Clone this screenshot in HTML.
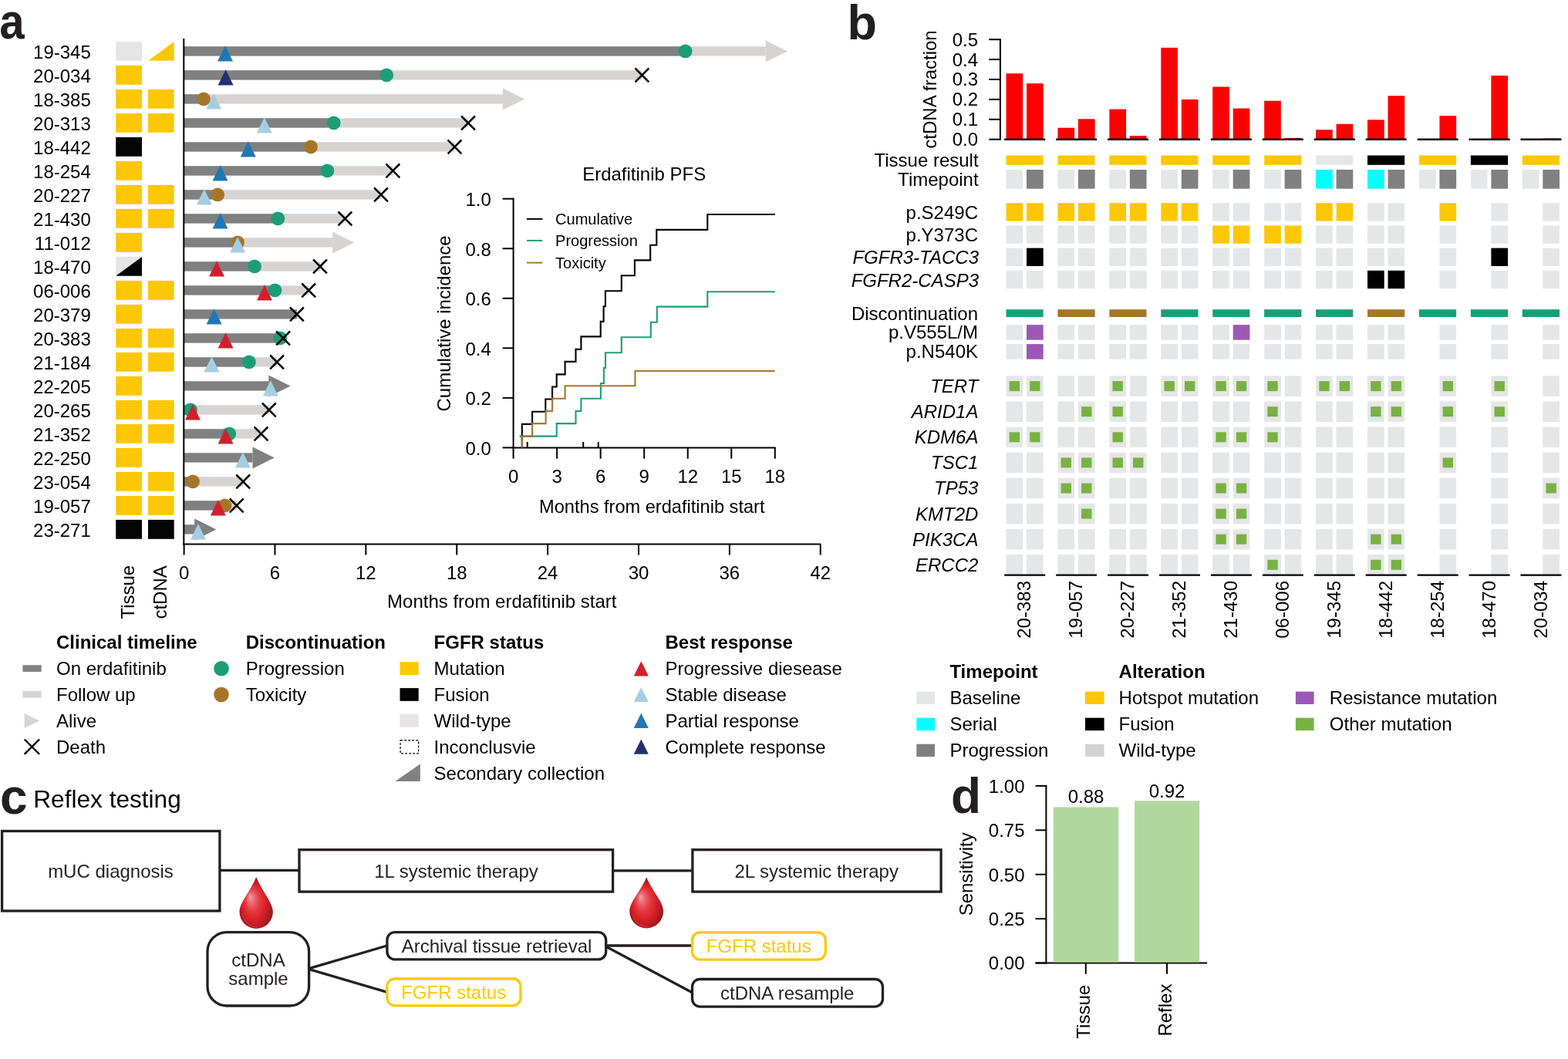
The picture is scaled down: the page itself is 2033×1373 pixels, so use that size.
<!DOCTYPE html>
<html><head><meta charset="utf-8"><title>Figure</title>
<style>html,body{margin:0;padding:0;background:#fff;} svg{display:block;} text{font-family:"Liberation Sans", Arial, Helvetica, sans-serif;}</style>
</head><body>
<svg width="2033" height="1373" viewBox="0 0 2033 1373">
<defs>
<radialGradient id="dropg" cx="0.5" cy="0.56" r="0.56" fx="0.32" fy="0.38">
<stop offset="0" stop-color="#F2A2A6"/>
<stop offset="0.18" stop-color="#EB6870"/>
<stop offset="0.4" stop-color="#E53840"/>
<stop offset="0.6" stop-color="#DC2129"/>
<stop offset="0.8" stop-color="#B51B22"/>
<stop offset="1" stop-color="#8C1318"/>
</radialGradient>
</defs>
<rect x="0" y="0" width="2033" height="1373" fill="#fff"/>
<text x="0" y="0" font-size="64" font-weight="bold" fill="#231F20" transform="translate(-0.8 50.3) scale(0.91 1)">a</text>
<text x="117.80" y="75.60" font-size="24" text-anchor="end">19-345</text>
<rect x="150.20" y="53.90" width="33.80" height="24.90" fill="#E6E4E5"/>
<polygon points="192.00,78.80 225.70,53.90 225.70,78.80" fill="#FDC704"/>
<text x="117.80" y="106.60" font-size="24" text-anchor="end">20-034</text>
<rect x="150.20" y="84.90" width="33.80" height="24.90" fill="#FDC704"/>
<text x="117.80" y="137.60" font-size="24" text-anchor="end">18-385</text>
<rect x="150.20" y="115.90" width="33.80" height="24.90" fill="#FDC704"/>
<rect x="192.00" y="115.90" width="33.70" height="24.90" fill="#FDC704"/>
<text x="117.80" y="168.60" font-size="24" text-anchor="end">20-313</text>
<rect x="150.20" y="146.90" width="33.80" height="24.90" fill="#FDC704"/>
<rect x="192.00" y="146.90" width="33.70" height="24.90" fill="#FDC704"/>
<text x="117.80" y="199.60" font-size="24" text-anchor="end">18-442</text>
<rect x="150.20" y="177.90" width="33.80" height="24.90" fill="#050505"/>
<text x="117.80" y="230.60" font-size="24" text-anchor="end">18-254</text>
<rect x="150.20" y="208.90" width="33.80" height="24.90" fill="#FDC704"/>
<text x="117.80" y="261.60" font-size="24" text-anchor="end">20-227</text>
<rect x="150.20" y="239.90" width="33.80" height="24.90" fill="#FDC704"/>
<rect x="192.00" y="239.90" width="33.70" height="24.90" fill="#FDC704"/>
<text x="117.80" y="292.60" font-size="24" text-anchor="end">21-430</text>
<rect x="150.20" y="270.90" width="33.80" height="24.90" fill="#FDC704"/>
<rect x="192.00" y="270.90" width="33.70" height="24.90" fill="#FDC704"/>
<text x="117.80" y="323.60" font-size="24" text-anchor="end">11-012</text>
<rect x="150.20" y="301.90" width="33.80" height="24.90" fill="#FDC704"/>
<text x="117.80" y="354.60" font-size="24" text-anchor="end">18-470</text>
<rect x="150.20" y="332.90" width="33.80" height="24.90" fill="#E6E4E5"/>
<polygon points="150.20,357.80 184.00,332.90 184.00,357.80" fill="#050505"/>
<text x="117.80" y="385.60" font-size="24" text-anchor="end">06-006</text>
<rect x="150.20" y="363.90" width="33.80" height="24.90" fill="#FDC704"/>
<rect x="192.00" y="363.90" width="33.70" height="24.90" fill="#FDC704"/>
<text x="117.80" y="416.60" font-size="24" text-anchor="end">20-379</text>
<rect x="150.20" y="394.90" width="33.80" height="24.90" fill="#FDC704"/>
<text x="117.80" y="447.60" font-size="24" text-anchor="end">20-383</text>
<rect x="150.20" y="425.90" width="33.80" height="24.90" fill="#FDC704"/>
<rect x="192.00" y="425.90" width="33.70" height="24.90" fill="#FDC704"/>
<text x="117.80" y="478.60" font-size="24" text-anchor="end">21-184</text>
<rect x="150.20" y="456.90" width="33.80" height="24.90" fill="#FDC704"/>
<rect x="192.00" y="456.90" width="33.70" height="24.90" fill="#FDC704"/>
<text x="117.80" y="509.60" font-size="24" text-anchor="end">22-205</text>
<rect x="150.20" y="487.90" width="33.80" height="24.90" fill="#FDC704"/>
<text x="117.80" y="540.60" font-size="24" text-anchor="end">20-265</text>
<rect x="150.20" y="518.90" width="33.80" height="24.90" fill="#FDC704"/>
<rect x="192.00" y="518.90" width="33.70" height="24.90" fill="#FDC704"/>
<text x="117.80" y="571.60" font-size="24" text-anchor="end">21-352</text>
<rect x="150.20" y="549.90" width="33.80" height="24.90" fill="#FDC704"/>
<rect x="192.00" y="549.90" width="33.70" height="24.90" fill="#FDC704"/>
<text x="117.80" y="602.60" font-size="24" text-anchor="end">22-250</text>
<rect x="150.20" y="580.90" width="33.80" height="24.90" fill="#FDC704"/>
<text x="117.80" y="633.60" font-size="24" text-anchor="end">23-054</text>
<rect x="150.20" y="611.90" width="33.80" height="24.90" fill="#FDC704"/>
<rect x="192.00" y="611.90" width="33.70" height="24.90" fill="#FDC704"/>
<text x="117.80" y="664.60" font-size="24" text-anchor="end">19-057</text>
<rect x="150.20" y="642.90" width="33.80" height="24.90" fill="#FDC704"/>
<rect x="192.00" y="642.90" width="33.70" height="24.90" fill="#FDC704"/>
<text x="117.80" y="695.60" font-size="24" text-anchor="end">23-271</text>
<rect x="150.20" y="673.90" width="33.80" height="24.90" fill="#050505"/>
<rect x="192.00" y="673.90" width="33.70" height="24.90" fill="#050505"/>
<rect x="239.00" y="60.25" width="753.70" height="12.30" fill="#D7D3D2"/>
<polygon points="992.70,52.40 1021.00,66.40 992.70,80.40" fill="#D7D3D2"/>
<rect x="239.00" y="60.25" width="649.60" height="12.30" fill="#808080"/>
<rect x="239.00" y="91.25" width="593.40" height="12.30" fill="#D7D3D2"/>
<rect x="239.00" y="91.25" width="262.20" height="12.30" fill="#808080"/>
<rect x="239.00" y="122.25" width="413.00" height="12.30" fill="#D7D3D2"/>
<polygon points="652.00,114.40 680.30,128.40 652.00,142.40" fill="#D7D3D2"/>
<rect x="239.00" y="122.25" width="25.00" height="12.30" fill="#808080"/>
<rect x="239.00" y="153.25" width="368.00" height="12.30" fill="#D7D3D2"/>
<rect x="239.00" y="153.25" width="193.70" height="12.30" fill="#808080"/>
<rect x="239.00" y="184.25" width="350.50" height="12.30" fill="#D7D3D2"/>
<rect x="239.00" y="184.25" width="164.00" height="12.30" fill="#808080"/>
<rect x="239.00" y="215.25" width="270.40" height="12.30" fill="#D7D3D2"/>
<rect x="239.00" y="215.25" width="185.40" height="12.30" fill="#808080"/>
<rect x="239.00" y="246.25" width="255.00" height="12.30" fill="#D7D3D2"/>
<rect x="239.00" y="246.25" width="43.10" height="12.30" fill="#808080"/>
<rect x="239.00" y="277.25" width="208.40" height="12.30" fill="#D7D3D2"/>
<rect x="239.00" y="277.25" width="121.30" height="12.30" fill="#808080"/>
<rect x="239.00" y="308.25" width="192.10" height="12.30" fill="#D7D3D2"/>
<polygon points="431.10,300.40 459.40,314.40 431.10,328.40" fill="#D7D3D2"/>
<rect x="239.00" y="308.25" width="69.10" height="12.30" fill="#808080"/>
<rect x="239.00" y="339.25" width="176.00" height="12.30" fill="#D7D3D2"/>
<rect x="239.00" y="339.25" width="91.00" height="12.30" fill="#808080"/>
<rect x="239.00" y="370.25" width="161.20" height="12.30" fill="#D7D3D2"/>
<rect x="239.00" y="370.25" width="117.50" height="12.30" fill="#808080"/>
<rect x="239.00" y="401.25" width="145.90" height="12.30" fill="#808080"/>
<rect x="239.00" y="432.25" width="128.10" height="12.30" fill="#D7D3D2"/>
<rect x="239.00" y="432.25" width="124.20" height="12.30" fill="#808080"/>
<rect x="239.00" y="463.25" width="120.10" height="12.30" fill="#D7D3D2"/>
<rect x="239.00" y="463.25" width="83.90" height="12.30" fill="#808080"/>
<rect x="239.00" y="494.25" width="109.30" height="12.30" fill="#808080"/>
<polygon points="348.30,486.40 376.60,500.40 348.30,514.40" fill="#808080"/>
<rect x="239.00" y="525.25" width="109.80" height="12.30" fill="#D7D3D2"/>
<rect x="239.00" y="525.25" width="7.90" height="12.30" fill="#808080"/>
<rect x="239.00" y="556.25" width="99.50" height="12.30" fill="#D7D3D2"/>
<rect x="239.00" y="556.25" width="58.20" height="12.30" fill="#808080"/>
<rect x="239.00" y="587.25" width="88.50" height="12.30" fill="#808080"/>
<polygon points="327.50,579.40 355.80,593.40 327.50,607.40" fill="#808080"/>
<rect x="239.00" y="618.25" width="76.20" height="12.30" fill="#D7D3D2"/>
<rect x="239.00" y="618.25" width="11.00" height="12.30" fill="#808080"/>
<rect x="239.00" y="649.25" width="67.70" height="12.30" fill="#D7D3D2"/>
<rect x="239.00" y="649.25" width="52.50" height="12.30" fill="#808080"/>
<rect x="239.00" y="680.25" width="13.10" height="12.30" fill="#808080"/>
<polygon points="252.10,672.40 280.40,686.40 252.10,700.40" fill="#808080"/>
<circle cx="888.60" cy="66.40" r="8.9" fill="#1B9E77"/>
<circle cx="501.20" cy="97.40" r="8.9" fill="#1B9E77"/>
<circle cx="264.00" cy="128.40" r="8.9" fill="#A67628"/>
<circle cx="432.70" cy="159.40" r="8.9" fill="#1B9E77"/>
<circle cx="403.00" cy="190.40" r="8.9" fill="#A67628"/>
<circle cx="424.40" cy="221.40" r="8.9" fill="#1B9E77"/>
<circle cx="282.10" cy="252.40" r="8.9" fill="#A67628"/>
<circle cx="360.30" cy="283.40" r="8.9" fill="#1B9E77"/>
<circle cx="308.10" cy="314.40" r="8.9" fill="#A67628"/>
<circle cx="330.00" cy="345.40" r="8.9" fill="#1B9E77"/>
<circle cx="356.50" cy="376.40" r="8.9" fill="#1B9E77"/>
<circle cx="363.20" cy="438.40" r="8.9" fill="#1B9E77"/>
<circle cx="322.90" cy="469.40" r="8.9" fill="#1B9E77"/>
<circle cx="246.90" cy="531.40" r="8.9" fill="#1B9E77"/>
<circle cx="297.20" cy="562.40" r="8.9" fill="#1B9E77"/>
<circle cx="250.00" cy="624.40" r="8.9" fill="#A67628"/>
<circle cx="291.50" cy="655.40" r="8.9" fill="#A67628"/>
<polygon points="292.00,59.20 302.00,79.60 282.00,79.60" fill="#1F78B4"/>
<polygon points="292.60,90.20 302.60,110.60 282.60,110.60" fill="#22306E"/>
<polygon points="277.20,121.20 287.20,141.60 267.20,141.60" fill="#A6CEE3"/>
<polygon points="342.80,152.20 352.80,172.60 332.80,172.60" fill="#A6CEE3"/>
<polygon points="321.70,183.20 331.70,203.60 311.70,203.60" fill="#1F78B4"/>
<polygon points="285.50,214.20 295.50,234.60 275.50,234.60" fill="#1F78B4"/>
<polygon points="264.80,245.20 274.80,265.60 254.80,265.60" fill="#A6CEE3"/>
<polygon points="285.50,276.20 295.50,296.60 275.50,296.60" fill="#1F78B4"/>
<polygon points="308.10,307.20 318.10,327.60 298.10,327.60" fill="#A6CEE3"/>
<polygon points="281.00,338.20 291.00,358.60 271.00,358.60" fill="#D11F2D"/>
<polygon points="343.00,369.20 353.00,389.60 333.00,389.60" fill="#D11F2D"/>
<polygon points="277.60,400.20 287.60,420.60 267.60,420.60" fill="#1F78B4"/>
<polygon points="292.60,431.20 302.60,451.60 282.60,451.60" fill="#D11F2D"/>
<polygon points="274.50,462.20 284.50,482.60 264.50,482.60" fill="#A6CEE3"/>
<polygon points="350.80,493.20 360.80,513.60 340.80,513.60" fill="#A6CEE3"/>
<polygon points="250.00,524.20 260.00,544.60 240.00,544.60" fill="#D11F2D"/>
<polygon points="292.60,555.20 302.60,575.60 282.60,575.60" fill="#D11F2D"/>
<polygon points="314.90,586.20 324.90,606.60 304.90,606.60" fill="#A6CEE3"/>
<polygon points="282.80,648.20 292.80,668.60 272.80,668.60" fill="#D11F2D"/>
<polygon points="257.00,679.20 267.00,699.60 247.00,699.60" fill="#A6CEE3"/>
<path d="M823.50,88.50L841.30,106.30M841.30,88.50L823.50,106.30" stroke="#000" stroke-width="2.5" fill="none"/>
<path d="M598.10,150.50L615.90,168.30M615.90,150.50L598.10,168.30" stroke="#000" stroke-width="2.5" fill="none"/>
<path d="M580.60,181.50L598.40,199.30M598.40,181.50L580.60,199.30" stroke="#000" stroke-width="2.5" fill="none"/>
<path d="M500.50,212.50L518.30,230.30M518.30,212.50L500.50,230.30" stroke="#000" stroke-width="2.5" fill="none"/>
<path d="M485.10,243.50L502.90,261.30M502.90,243.50L485.10,261.30" stroke="#000" stroke-width="2.5" fill="none"/>
<path d="M438.50,274.50L456.30,292.30M456.30,274.50L438.50,292.30" stroke="#000" stroke-width="2.5" fill="none"/>
<path d="M406.10,336.50L423.90,354.30M423.90,336.50L406.10,354.30" stroke="#000" stroke-width="2.5" fill="none"/>
<path d="M391.30,367.50L409.10,385.30M409.10,367.50L391.30,385.30" stroke="#000" stroke-width="2.5" fill="none"/>
<path d="M376.00,398.50L393.80,416.30M393.80,398.50L376.00,416.30" stroke="#000" stroke-width="2.5" fill="none"/>
<path d="M358.20,429.50L376.00,447.30M376.00,429.50L358.20,447.30" stroke="#000" stroke-width="2.5" fill="none"/>
<path d="M350.20,460.50L368.00,478.30M368.00,460.50L350.20,478.30" stroke="#000" stroke-width="2.5" fill="none"/>
<path d="M339.90,522.50L357.70,540.30M357.70,522.50L339.90,540.30" stroke="#000" stroke-width="2.5" fill="none"/>
<path d="M329.60,553.50L347.40,571.30M347.40,553.50L329.60,571.30" stroke="#000" stroke-width="2.5" fill="none"/>
<path d="M306.30,615.50L324.10,633.30M324.10,615.50L306.30,633.30" stroke="#000" stroke-width="2.5" fill="none"/>
<path d="M297.80,646.50L315.60,664.30M315.60,646.50L297.80,664.30" stroke="#000" stroke-width="2.5" fill="none"/>
<line x1="238.30" y1="50.00" x2="238.30" y2="706.60" stroke="#000" stroke-width="2"/>
<line x1="237.30" y1="705.60" x2="1064.40" y2="705.60" stroke="#000" stroke-width="2"/>
<line x1="238.60" y1="705.60" x2="238.60" y2="719.50" stroke="#000" stroke-width="2"/>
<text x="238.60" y="750.80" font-size="24" text-anchor="middle">0</text>
<line x1="356.48" y1="705.60" x2="356.48" y2="719.50" stroke="#000" stroke-width="2"/>
<text x="356.48" y="750.80" font-size="24" text-anchor="middle">6</text>
<line x1="474.36" y1="705.60" x2="474.36" y2="719.50" stroke="#000" stroke-width="2"/>
<text x="474.36" y="750.80" font-size="24" text-anchor="middle">12</text>
<line x1="592.24" y1="705.60" x2="592.24" y2="719.50" stroke="#000" stroke-width="2"/>
<text x="592.24" y="750.80" font-size="24" text-anchor="middle">18</text>
<line x1="710.12" y1="705.60" x2="710.12" y2="719.50" stroke="#000" stroke-width="2"/>
<text x="710.12" y="750.80" font-size="24" text-anchor="middle">24</text>
<line x1="828.00" y1="705.60" x2="828.00" y2="719.50" stroke="#000" stroke-width="2"/>
<text x="828.00" y="750.80" font-size="24" text-anchor="middle">30</text>
<line x1="945.88" y1="705.60" x2="945.88" y2="719.50" stroke="#000" stroke-width="2"/>
<text x="945.88" y="750.80" font-size="24" text-anchor="middle">36</text>
<line x1="1063.76" y1="705.60" x2="1063.76" y2="719.50" stroke="#000" stroke-width="2"/>
<text x="1063.76" y="750.80" font-size="24" text-anchor="middle">42</text>
<text x="650.80" y="788.00" font-size="24" text-anchor="middle">Months from erdafitinib start</text>
<text x="173.60" y="802.60" font-size="24" text-anchor="start" transform="rotate(-90 173.60 802.60)">Tissue</text>
<text x="215.80" y="802.60" font-size="24" text-anchor="start" transform="rotate(-90 215.80 802.60)">ctDNA</text>
<line x1="665.60" y1="581.40" x2="665.60" y2="256.70" stroke="#000" stroke-width="2"/>
<line x1="664.60" y1="580.40" x2="1005.80" y2="580.40" stroke="#000" stroke-width="2"/>
<line x1="651.60" y1="580.40" x2="665.60" y2="580.40" stroke="#000" stroke-width="2"/>
<text x="636.80" y="589.80" font-size="24" text-anchor="end">0.0</text>
<line x1="651.60" y1="515.86" x2="665.60" y2="515.86" stroke="#000" stroke-width="2"/>
<text x="636.80" y="525.26" font-size="24" text-anchor="end">0.2</text>
<line x1="651.60" y1="451.32" x2="665.60" y2="451.32" stroke="#000" stroke-width="2"/>
<text x="636.80" y="460.72" font-size="24" text-anchor="end">0.4</text>
<line x1="651.60" y1="386.78" x2="665.60" y2="386.78" stroke="#000" stroke-width="2"/>
<text x="636.80" y="396.18" font-size="24" text-anchor="end">0.6</text>
<line x1="651.60" y1="322.24" x2="665.60" y2="322.24" stroke="#000" stroke-width="2"/>
<text x="636.80" y="331.64" font-size="24" text-anchor="end">0.8</text>
<line x1="651.60" y1="257.70" x2="665.60" y2="257.70" stroke="#000" stroke-width="2"/>
<text x="636.80" y="267.10" font-size="24" text-anchor="end">1.0</text>
<line x1="665.60" y1="580.40" x2="665.60" y2="594.70" stroke="#000" stroke-width="2"/>
<text x="665.60" y="626.20" font-size="24" text-anchor="middle">0</text>
<line x1="722.13" y1="580.40" x2="722.13" y2="594.70" stroke="#000" stroke-width="2"/>
<text x="722.13" y="626.20" font-size="24" text-anchor="middle">3</text>
<line x1="778.67" y1="580.40" x2="778.67" y2="594.70" stroke="#000" stroke-width="2"/>
<text x="778.67" y="626.20" font-size="24" text-anchor="middle">6</text>
<line x1="835.20" y1="580.40" x2="835.20" y2="594.70" stroke="#000" stroke-width="2"/>
<text x="835.20" y="626.20" font-size="24" text-anchor="middle">9</text>
<line x1="891.73" y1="580.40" x2="891.73" y2="594.70" stroke="#000" stroke-width="2"/>
<text x="891.73" y="626.20" font-size="24" text-anchor="middle">12</text>
<line x1="948.27" y1="580.40" x2="948.27" y2="594.70" stroke="#000" stroke-width="2"/>
<text x="948.27" y="626.20" font-size="24" text-anchor="middle">15</text>
<line x1="1004.80" y1="580.40" x2="1004.80" y2="594.70" stroke="#000" stroke-width="2"/>
<text x="1004.80" y="626.20" font-size="24" text-anchor="middle">18</text>
<text x="845.30" y="665.00" font-size="23.6" text-anchor="middle">Months from erdafitinib start</text>
<text x="583.90" y="419.40" font-size="24" text-anchor="middle" transform="rotate(-90 583.90 419.40)">Cumulative incidence</text>
<text x="835.20" y="234.20" font-size="24" text-anchor="middle">Erdafitinib PFS</text>
<line x1="683.00" y1="283.90" x2="703.40" y2="283.90" stroke="#000" stroke-width="2"/>
<text x="720.10" y="291.10" font-size="20" text-anchor="start">Cumulative</text>
<line x1="683.00" y1="311.90" x2="703.40" y2="311.90" stroke="#1B9E77" stroke-width="2"/>
<text x="720.10" y="319.10" font-size="20" text-anchor="start">Progression</text>
<line x1="683.00" y1="340.60" x2="703.40" y2="340.60" stroke="#A67628" stroke-width="2"/>
<text x="720.10" y="347.80" font-size="20" text-anchor="start">Toxicity</text>
<path d="M673.60,565.60 L721.70,565.60 L721.70,549.10 L746.50,549.10 L746.50,533.00 L753.40,533.00 L753.40,516.70 L778.90,516.70 L778.90,497.00 L782.90,497.00 L782.90,477.00 L785.00,477.00 L785.00,457.20 L805.80,457.20 L805.80,437.20 L843.80,437.20 L843.80,417.70 L851.80,417.70 L851.80,397.60 L917.30,397.60 L917.30,378.30 L1004.80,378.30" stroke="#1B9E77" stroke-width="2.1" fill="none" stroke-linejoin="miter" stroke-linecap="butt"/>
<path d="M676.80,580.40 L676.80,580.40 L676.80,549.90 L690.10,549.90 L690.10,533.80 L707.30,533.80 L707.30,517.50 L716.10,517.50 L716.10,501.50 L721.70,501.50 L721.70,485.40 L732.60,485.40 L732.60,468.90 L746.50,468.90 L746.50,452.90 L753.40,452.90 L753.40,436.40 L778.70,436.40 L778.70,416.90 L782.60,416.90 L782.60,397.20 L784.90,397.20 L784.90,377.20 L805.80,377.20 L805.80,357.30 L822.90,357.30 L822.90,337.40 L843.20,337.40 L843.20,317.80 L851.30,317.80 L851.30,297.90 L917.30,297.90 L917.30,278.00 L1004.80,278.00" stroke="#000" stroke-width="2.1" fill="none" stroke-linejoin="miter" stroke-linecap="butt"/>
<path d="M676.80,580.40 L676.80,580.40 L676.80,565.60 L690.10,565.60 L690.10,549.10 L707.60,549.10 L707.60,533.00 L716.10,533.00 L716.10,516.70 L732.60,516.70 L732.60,500.20 L823.50,500.20 L823.50,481.00 L1004.80,481.00" stroke="#A67628" stroke-width="2.1" fill="none" stroke-linejoin="miter" stroke-linecap="butt"/>
<line x1="683.70" y1="573.00" x2="683.70" y2="580.40" stroke="#000" stroke-width="2"/>
<line x1="756.20" y1="573.00" x2="756.20" y2="580.40" stroke="#000" stroke-width="2"/>
<line x1="775.70" y1="573.00" x2="775.70" y2="580.40" stroke="#000" stroke-width="2"/>
<text x="73.00" y="840.80" font-size="24" text-anchor="start" font-weight="bold">Clinical timeline</text>
<text x="318.70" y="840.80" font-size="24" text-anchor="start" font-weight="bold">Discontinuation</text>
<text x="562.60" y="840.80" font-size="24" text-anchor="start" font-weight="bold">FGFR status</text>
<text x="862.50" y="840.80" font-size="24" text-anchor="start" font-weight="bold">Best response</text>
<text x="73.00" y="875.30" font-size="24" text-anchor="start">On erdafitinib</text>
<text x="73.00" y="909.00" font-size="24" text-anchor="start">Follow up</text>
<text x="73.00" y="942.80" font-size="24" text-anchor="start">Alive</text>
<text x="73.00" y="976.70" font-size="24" text-anchor="start">Death</text>
<rect x="29.50" y="862.30" width="24.20" height="8.60" fill="#808080"/>
<rect x="29.50" y="896.00" width="24.20" height="8.60" fill="#D7D3D2"/>
<polygon points="31.70,925.00 51.00,934.50 31.70,944.00" fill="#D7D3D2"/>
<path d="M31.70,958.50L51.10,977.90M51.10,958.50L31.70,977.90" stroke="#000" stroke-width="2.4" fill="none"/>
<text x="318.70" y="875.30" font-size="24" text-anchor="start">Progression</text>
<text x="318.70" y="909.00" font-size="24" text-anchor="start">Toxicity</text>
<circle cx="287.00" cy="866.70" r="9.8" fill="#1B9E77"/>
<circle cx="287.00" cy="900.50" r="9.8" fill="#A67628"/>
<text x="562.60" y="875.30" font-size="24" text-anchor="start">Mutation</text>
<text x="562.60" y="909.00" font-size="24" text-anchor="start">Fusion</text>
<text x="562.60" y="942.80" font-size="24" text-anchor="start">Wild-type</text>
<text x="562.60" y="976.70" font-size="24" text-anchor="start">Inconclusvie</text>
<text x="562.60" y="1010.60" font-size="24" text-anchor="start">Secondary collection</text>
<rect x="518.50" y="858.30" width="24.20" height="16.80" fill="#FDC704"/>
<rect x="518.50" y="892.10" width="24.20" height="16.80" fill="#050505"/>
<rect x="518.50" y="925.90" width="24.20" height="16.80" fill="#E6E4E5"/>
<rect x="519.10" y="959.90" width="23.50" height="17.00" fill="none" stroke="#000" stroke-width="1.2" stroke-dasharray="3,2"/>
<polygon points="512.40,1013.00 544.90,990.60 544.90,1013.00" fill="#808080"/>
<text x="862.50" y="875.30" font-size="24" text-anchor="start">Progressive diesease</text>
<polygon points="831.30,857.20 840.90,876.40 821.70,876.40" fill="#D11F2D"/>
<text x="862.50" y="909.00" font-size="24" text-anchor="start">Stable disease</text>
<polygon points="831.30,890.90 840.90,910.10 821.70,910.10" fill="#A6CEE3"/>
<text x="862.50" y="942.80" font-size="24" text-anchor="start">Partial response</text>
<polygon points="831.30,924.70 840.90,943.90 821.70,943.90" fill="#1F78B4"/>
<text x="862.50" y="976.70" font-size="24" text-anchor="start">Complete response</text>
<polygon points="831.30,958.60 840.90,977.80 821.70,977.80" fill="#22306E"/>
<text x="1098.40" y="50.60" font-size="63" text-anchor="start" font-weight="bold" fill="#231F20">b</text>
<line x1="1296.90" y1="181.70" x2="1296.90" y2="50.30" stroke="#000" stroke-width="2"/>
<line x1="1282.30" y1="180.70" x2="1296.90" y2="180.70" stroke="#000" stroke-width="2"/>
<text x="1268.00" y="189.10" font-size="24" text-anchor="end">0.0</text>
<line x1="1282.30" y1="154.80" x2="1296.90" y2="154.80" stroke="#000" stroke-width="2"/>
<text x="1268.00" y="163.20" font-size="24" text-anchor="end">0.1</text>
<line x1="1282.30" y1="128.90" x2="1296.90" y2="128.90" stroke="#000" stroke-width="2"/>
<text x="1268.00" y="137.30" font-size="24" text-anchor="end">0.2</text>
<line x1="1282.30" y1="103.00" x2="1296.90" y2="103.00" stroke="#000" stroke-width="2"/>
<text x="1268.00" y="111.40" font-size="24" text-anchor="end">0.3</text>
<line x1="1282.30" y1="77.10" x2="1296.90" y2="77.10" stroke="#000" stroke-width="2"/>
<text x="1268.00" y="85.50" font-size="24" text-anchor="end">0.4</text>
<line x1="1282.30" y1="51.20" x2="1296.90" y2="51.20" stroke="#000" stroke-width="2"/>
<text x="1268.00" y="59.60" font-size="24" text-anchor="end">0.5</text>
<text x="1214.00" y="116.00" font-size="24" text-anchor="middle" transform="rotate(-90 1214.00 116.00)">ctDNA fraction</text>
<rect x="1304.50" y="95.23" width="21.70" height="85.47" fill="#FF0000"/>
<rect x="1331.00" y="108.18" width="21.70" height="72.52" fill="#FF0000"/>
<line x1="1302.20" y1="180.70" x2="1355.20" y2="180.70" stroke="#000" stroke-width="2.4"/>
<rect x="1371.43" y="165.68" width="21.70" height="15.02" fill="#FF0000"/>
<rect x="1397.93" y="154.28" width="21.70" height="26.42" fill="#FF0000"/>
<line x1="1369.13" y1="180.70" x2="1422.13" y2="180.70" stroke="#000" stroke-width="2.4"/>
<rect x="1438.36" y="141.59" width="21.70" height="39.11" fill="#FF0000"/>
<rect x="1464.86" y="176.04" width="21.70" height="4.66" fill="#FF0000"/>
<line x1="1436.06" y1="180.70" x2="1489.06" y2="180.70" stroke="#000" stroke-width="2.4"/>
<rect x="1505.29" y="61.82" width="21.70" height="118.88" fill="#FF0000"/>
<rect x="1531.79" y="128.90" width="21.70" height="51.80" fill="#FF0000"/>
<line x1="1502.99" y1="180.70" x2="1555.99" y2="180.70" stroke="#000" stroke-width="2.4"/>
<rect x="1572.22" y="112.58" width="21.70" height="68.12" fill="#FF0000"/>
<rect x="1598.72" y="140.55" width="21.70" height="40.15" fill="#FF0000"/>
<line x1="1569.92" y1="180.70" x2="1622.92" y2="180.70" stroke="#000" stroke-width="2.4"/>
<rect x="1639.15" y="130.71" width="21.70" height="49.99" fill="#FF0000"/>
<rect x="1665.65" y="178.89" width="21.70" height="1.81" fill="#FF0000"/>
<line x1="1636.85" y1="180.70" x2="1689.85" y2="180.70" stroke="#000" stroke-width="2.4"/>
<rect x="1706.08" y="168.27" width="21.70" height="12.43" fill="#FF0000"/>
<rect x="1732.58" y="160.76" width="21.70" height="19.94" fill="#FF0000"/>
<line x1="1703.78" y1="180.70" x2="1756.78" y2="180.70" stroke="#000" stroke-width="2.4"/>
<rect x="1773.01" y="155.32" width="21.70" height="25.38" fill="#FF0000"/>
<rect x="1799.51" y="124.24" width="21.70" height="56.46" fill="#FF0000"/>
<line x1="1770.71" y1="180.70" x2="1823.71" y2="180.70" stroke="#000" stroke-width="2.4"/>
<rect x="1866.44" y="150.14" width="21.70" height="30.56" fill="#FF0000"/>
<line x1="1837.64" y1="180.70" x2="1890.64" y2="180.70" stroke="#000" stroke-width="2.4"/>
<rect x="1933.37" y="98.08" width="21.70" height="82.62" fill="#FF0000"/>
<line x1="1904.57" y1="180.70" x2="1957.57" y2="180.70" stroke="#000" stroke-width="2.4"/>
<rect x="2000.30" y="179.41" width="21.70" height="1.29" fill="#FF0000"/>
<line x1="1971.50" y1="180.70" x2="2024.50" y2="180.70" stroke="#000" stroke-width="2.4"/>
<rect x="1304.50" y="201.50" width="48.20" height="12.30" fill="#FDC704"/>
<rect x="1371.43" y="201.50" width="48.20" height="12.30" fill="#FDC704"/>
<rect x="1438.36" y="201.50" width="48.20" height="12.30" fill="#FDC704"/>
<rect x="1505.29" y="201.50" width="48.20" height="12.30" fill="#FDC704"/>
<rect x="1572.22" y="201.50" width="48.20" height="12.30" fill="#FDC704"/>
<rect x="1639.15" y="201.50" width="48.20" height="12.30" fill="#FDC704"/>
<rect x="1706.08" y="201.50" width="48.20" height="12.30" fill="#E5E6E7"/>
<rect x="1773.01" y="201.50" width="48.20" height="12.30" fill="#000"/>
<rect x="1839.94" y="201.50" width="48.20" height="12.30" fill="#FDC704"/>
<rect x="1906.87" y="201.50" width="48.20" height="12.30" fill="#000"/>
<rect x="1973.80" y="201.50" width="48.20" height="12.30" fill="#FDC704"/>
<text x="1268.60" y="215.50" font-size="24" text-anchor="end">Tissue result</text>
<text x="1268.60" y="240.80" font-size="24" text-anchor="end">Timepoint</text>
<rect x="1304.50" y="220.00" width="21.70" height="24.70" fill="#E5E6E7"/>
<rect x="1331.00" y="220.00" width="21.70" height="24.70" fill="#808080"/>
<rect x="1371.43" y="220.00" width="21.70" height="24.70" fill="#E5E6E7"/>
<rect x="1397.93" y="220.00" width="21.70" height="24.70" fill="#808080"/>
<rect x="1438.36" y="220.00" width="21.70" height="24.70" fill="#E5E6E7"/>
<rect x="1464.86" y="220.00" width="21.70" height="24.70" fill="#808080"/>
<rect x="1505.29" y="220.00" width="21.70" height="24.70" fill="#E5E6E7"/>
<rect x="1531.79" y="220.00" width="21.70" height="24.70" fill="#808080"/>
<rect x="1572.22" y="220.00" width="21.70" height="24.70" fill="#E5E6E7"/>
<rect x="1598.72" y="220.00" width="21.70" height="24.70" fill="#808080"/>
<rect x="1639.15" y="220.00" width="21.70" height="24.70" fill="#E5E6E7"/>
<rect x="1665.65" y="220.00" width="21.70" height="24.70" fill="#808080"/>
<rect x="1706.08" y="220.00" width="21.70" height="24.70" fill="#00FFFF"/>
<rect x="1732.58" y="220.00" width="21.70" height="24.70" fill="#808080"/>
<rect x="1773.01" y="220.00" width="21.70" height="24.70" fill="#00FFFF"/>
<rect x="1799.51" y="220.00" width="21.70" height="24.70" fill="#808080"/>
<rect x="1839.94" y="220.00" width="21.70" height="24.70" fill="#E5E6E7"/>
<rect x="1866.44" y="220.00" width="21.70" height="24.70" fill="#808080"/>
<rect x="1906.87" y="220.00" width="21.70" height="24.70" fill="#E5E6E7"/>
<rect x="1933.37" y="220.00" width="21.70" height="24.70" fill="#808080"/>
<rect x="1973.80" y="220.00" width="21.70" height="24.70" fill="#E5E6E7"/>
<rect x="2000.30" y="220.00" width="21.70" height="24.70" fill="#808080"/>
<text x="1268.00" y="283.90" font-size="24" text-anchor="end">p.S249C</text>
<rect x="1304.50" y="263.20" width="21.70" height="23.40" fill="#FDC704"/>
<rect x="1331.00" y="263.20" width="21.70" height="23.40" fill="#FDC704"/>
<rect x="1371.43" y="263.20" width="21.70" height="23.40" fill="#FDC704"/>
<rect x="1397.93" y="263.20" width="21.70" height="23.40" fill="#FDC704"/>
<rect x="1438.36" y="263.20" width="21.70" height="23.40" fill="#FDC704"/>
<rect x="1464.86" y="263.20" width="21.70" height="23.40" fill="#FDC704"/>
<rect x="1505.29" y="263.20" width="21.70" height="23.40" fill="#FDC704"/>
<rect x="1531.79" y="263.20" width="21.70" height="23.40" fill="#FDC704"/>
<rect x="1572.22" y="263.20" width="21.70" height="23.40" fill="#E5E6E7"/>
<rect x="1598.72" y="263.20" width="21.70" height="23.40" fill="#E5E6E7"/>
<rect x="1639.15" y="263.20" width="21.70" height="23.40" fill="#E5E6E7"/>
<rect x="1665.65" y="263.20" width="21.70" height="23.40" fill="#E5E6E7"/>
<rect x="1706.08" y="263.20" width="21.70" height="23.40" fill="#FDC704"/>
<rect x="1732.58" y="263.20" width="21.70" height="23.40" fill="#FDC704"/>
<rect x="1773.01" y="263.20" width="21.70" height="23.40" fill="#E5E6E7"/>
<rect x="1799.51" y="263.20" width="21.70" height="23.40" fill="#E5E6E7"/>
<rect x="1866.44" y="263.20" width="21.70" height="23.40" fill="#FDC704"/>
<rect x="1933.37" y="263.20" width="21.70" height="23.40" fill="#E5E6E7"/>
<rect x="2000.30" y="263.20" width="21.70" height="23.40" fill="#E5E6E7"/>
<text x="1268.00" y="313.10" font-size="24" text-anchor="end">p.Y373C</text>
<rect x="1304.50" y="292.40" width="21.70" height="23.40" fill="#E5E6E7"/>
<rect x="1331.00" y="292.40" width="21.70" height="23.40" fill="#E5E6E7"/>
<rect x="1371.43" y="292.40" width="21.70" height="23.40" fill="#E5E6E7"/>
<rect x="1397.93" y="292.40" width="21.70" height="23.40" fill="#E5E6E7"/>
<rect x="1438.36" y="292.40" width="21.70" height="23.40" fill="#E5E6E7"/>
<rect x="1464.86" y="292.40" width="21.70" height="23.40" fill="#E5E6E7"/>
<rect x="1505.29" y="292.40" width="21.70" height="23.40" fill="#E5E6E7"/>
<rect x="1531.79" y="292.40" width="21.70" height="23.40" fill="#E5E6E7"/>
<rect x="1572.22" y="292.40" width="21.70" height="23.40" fill="#FDC704"/>
<rect x="1598.72" y="292.40" width="21.70" height="23.40" fill="#FDC704"/>
<rect x="1639.15" y="292.40" width="21.70" height="23.40" fill="#FDC704"/>
<rect x="1665.65" y="292.40" width="21.70" height="23.40" fill="#FDC704"/>
<rect x="1706.08" y="292.40" width="21.70" height="23.40" fill="#E5E6E7"/>
<rect x="1732.58" y="292.40" width="21.70" height="23.40" fill="#E5E6E7"/>
<rect x="1773.01" y="292.40" width="21.70" height="23.40" fill="#E5E6E7"/>
<rect x="1799.51" y="292.40" width="21.70" height="23.40" fill="#E5E6E7"/>
<rect x="1866.44" y="292.40" width="21.70" height="23.40" fill="#E5E6E7"/>
<rect x="1933.37" y="292.40" width="21.70" height="23.40" fill="#E5E6E7"/>
<rect x="2000.30" y="292.40" width="21.70" height="23.40" fill="#E5E6E7"/>
<text x="1269.00" y="342.30" font-size="24" text-anchor="end" font-style="italic">FGFR3-TACC3</text>
<rect x="1304.50" y="321.60" width="21.70" height="23.40" fill="#E5E6E7"/>
<rect x="1331.00" y="321.60" width="21.70" height="23.40" fill="#000"/>
<rect x="1371.43" y="321.60" width="21.70" height="23.40" fill="#E5E6E7"/>
<rect x="1397.93" y="321.60" width="21.70" height="23.40" fill="#E5E6E7"/>
<rect x="1438.36" y="321.60" width="21.70" height="23.40" fill="#E5E6E7"/>
<rect x="1464.86" y="321.60" width="21.70" height="23.40" fill="#E5E6E7"/>
<rect x="1505.29" y="321.60" width="21.70" height="23.40" fill="#E5E6E7"/>
<rect x="1531.79" y="321.60" width="21.70" height="23.40" fill="#E5E6E7"/>
<rect x="1572.22" y="321.60" width="21.70" height="23.40" fill="#E5E6E7"/>
<rect x="1598.72" y="321.60" width="21.70" height="23.40" fill="#E5E6E7"/>
<rect x="1639.15" y="321.60" width="21.70" height="23.40" fill="#E5E6E7"/>
<rect x="1665.65" y="321.60" width="21.70" height="23.40" fill="#E5E6E7"/>
<rect x="1706.08" y="321.60" width="21.70" height="23.40" fill="#E5E6E7"/>
<rect x="1732.58" y="321.60" width="21.70" height="23.40" fill="#E5E6E7"/>
<rect x="1773.01" y="321.60" width="21.70" height="23.40" fill="#E5E6E7"/>
<rect x="1799.51" y="321.60" width="21.70" height="23.40" fill="#E5E6E7"/>
<rect x="1866.44" y="321.60" width="21.70" height="23.40" fill="#E5E6E7"/>
<rect x="1933.37" y="321.60" width="21.70" height="23.40" fill="#000"/>
<rect x="2000.30" y="321.60" width="21.70" height="23.40" fill="#E5E6E7"/>
<text x="1269.00" y="371.50" font-size="24" text-anchor="end" font-style="italic">FGFR2-CASP3</text>
<rect x="1304.50" y="350.80" width="21.70" height="23.40" fill="#E5E6E7"/>
<rect x="1331.00" y="350.80" width="21.70" height="23.40" fill="#E5E6E7"/>
<rect x="1371.43" y="350.80" width="21.70" height="23.40" fill="#E5E6E7"/>
<rect x="1397.93" y="350.80" width="21.70" height="23.40" fill="#E5E6E7"/>
<rect x="1438.36" y="350.80" width="21.70" height="23.40" fill="#E5E6E7"/>
<rect x="1464.86" y="350.80" width="21.70" height="23.40" fill="#E5E6E7"/>
<rect x="1505.29" y="350.80" width="21.70" height="23.40" fill="#E5E6E7"/>
<rect x="1531.79" y="350.80" width="21.70" height="23.40" fill="#E5E6E7"/>
<rect x="1572.22" y="350.80" width="21.70" height="23.40" fill="#E5E6E7"/>
<rect x="1598.72" y="350.80" width="21.70" height="23.40" fill="#E5E6E7"/>
<rect x="1639.15" y="350.80" width="21.70" height="23.40" fill="#E5E6E7"/>
<rect x="1665.65" y="350.80" width="21.70" height="23.40" fill="#E5E6E7"/>
<rect x="1706.08" y="350.80" width="21.70" height="23.40" fill="#E5E6E7"/>
<rect x="1732.58" y="350.80" width="21.70" height="23.40" fill="#E5E6E7"/>
<rect x="1773.01" y="350.80" width="21.70" height="23.40" fill="#000"/>
<rect x="1799.51" y="350.80" width="21.70" height="23.40" fill="#000"/>
<rect x="1866.44" y="350.80" width="21.70" height="23.40" fill="#E5E6E7"/>
<rect x="1933.37" y="350.80" width="21.70" height="23.40" fill="#E5E6E7"/>
<rect x="2000.30" y="350.80" width="21.70" height="23.40" fill="#E5E6E7"/>
<text x="1268.00" y="414.50" font-size="24" text-anchor="end">Discontinuation</text>
<rect x="1304.50" y="401.20" width="48.20" height="9.80" fill="#1B9E77"/>
<rect x="1371.43" y="401.20" width="48.20" height="9.80" fill="#A67628"/>
<rect x="1438.36" y="401.20" width="48.20" height="9.80" fill="#A67628"/>
<rect x="1505.29" y="401.20" width="48.20" height="9.80" fill="#1B9E77"/>
<rect x="1572.22" y="401.20" width="48.20" height="9.80" fill="#1B9E77"/>
<rect x="1639.15" y="401.20" width="48.20" height="9.80" fill="#1B9E77"/>
<rect x="1706.08" y="401.20" width="48.20" height="9.80" fill="#1B9E77"/>
<rect x="1773.01" y="401.20" width="48.20" height="9.80" fill="#A67628"/>
<rect x="1839.94" y="401.20" width="48.20" height="9.80" fill="#1B9E77"/>
<rect x="1906.87" y="401.20" width="48.20" height="9.80" fill="#1B9E77"/>
<rect x="1973.80" y="401.20" width="48.20" height="9.80" fill="#1B9E77"/>
<text x="1268.00" y="439.10" font-size="24" text-anchor="end">p.V555L/M</text>
<rect x="1304.50" y="421.10" width="21.70" height="19.60" fill="#E5E6E7"/>
<rect x="1331.00" y="421.10" width="21.70" height="19.60" fill="#9A59B5"/>
<rect x="1371.43" y="421.10" width="21.70" height="19.60" fill="#E5E6E7"/>
<rect x="1397.93" y="421.10" width="21.70" height="19.60" fill="#E5E6E7"/>
<rect x="1438.36" y="421.10" width="21.70" height="19.60" fill="#E5E6E7"/>
<rect x="1464.86" y="421.10" width="21.70" height="19.60" fill="#E5E6E7"/>
<rect x="1505.29" y="421.10" width="21.70" height="19.60" fill="#E5E6E7"/>
<rect x="1531.79" y="421.10" width="21.70" height="19.60" fill="#E5E6E7"/>
<rect x="1572.22" y="421.10" width="21.70" height="19.60" fill="#E5E6E7"/>
<rect x="1598.72" y="421.10" width="21.70" height="19.60" fill="#9A59B5"/>
<rect x="1639.15" y="421.10" width="21.70" height="19.60" fill="#E5E6E7"/>
<rect x="1665.65" y="421.10" width="21.70" height="19.60" fill="#E5E6E7"/>
<rect x="1706.08" y="421.10" width="21.70" height="19.60" fill="#E5E6E7"/>
<rect x="1732.58" y="421.10" width="21.70" height="19.60" fill="#E5E6E7"/>
<rect x="1773.01" y="421.10" width="21.70" height="19.60" fill="#E5E6E7"/>
<rect x="1799.51" y="421.10" width="21.70" height="19.60" fill="#E5E6E7"/>
<rect x="1866.44" y="421.10" width="21.70" height="19.60" fill="#E5E6E7"/>
<rect x="1933.37" y="421.10" width="21.70" height="19.60" fill="#E5E6E7"/>
<rect x="2000.30" y="421.10" width="21.70" height="19.60" fill="#E5E6E7"/>
<text x="1268.00" y="464.10" font-size="24" text-anchor="end">p.N540K</text>
<rect x="1304.50" y="446.10" width="21.70" height="19.60" fill="#E5E6E7"/>
<rect x="1331.00" y="446.10" width="21.70" height="19.60" fill="#9A59B5"/>
<rect x="1371.43" y="446.10" width="21.70" height="19.60" fill="#E5E6E7"/>
<rect x="1397.93" y="446.10" width="21.70" height="19.60" fill="#E5E6E7"/>
<rect x="1438.36" y="446.10" width="21.70" height="19.60" fill="#E5E6E7"/>
<rect x="1464.86" y="446.10" width="21.70" height="19.60" fill="#E5E6E7"/>
<rect x="1505.29" y="446.10" width="21.70" height="19.60" fill="#E5E6E7"/>
<rect x="1531.79" y="446.10" width="21.70" height="19.60" fill="#E5E6E7"/>
<rect x="1572.22" y="446.10" width="21.70" height="19.60" fill="#E5E6E7"/>
<rect x="1598.72" y="446.10" width="21.70" height="19.60" fill="#E5E6E7"/>
<rect x="1639.15" y="446.10" width="21.70" height="19.60" fill="#E5E6E7"/>
<rect x="1665.65" y="446.10" width="21.70" height="19.60" fill="#E5E6E7"/>
<rect x="1706.08" y="446.10" width="21.70" height="19.60" fill="#E5E6E7"/>
<rect x="1732.58" y="446.10" width="21.70" height="19.60" fill="#E5E6E7"/>
<rect x="1773.01" y="446.10" width="21.70" height="19.60" fill="#E5E6E7"/>
<rect x="1799.51" y="446.10" width="21.70" height="19.60" fill="#E5E6E7"/>
<rect x="1866.44" y="446.10" width="21.70" height="19.60" fill="#E5E6E7"/>
<rect x="1933.37" y="446.10" width="21.70" height="19.60" fill="#E5E6E7"/>
<rect x="2000.30" y="446.10" width="21.70" height="19.60" fill="#E5E6E7"/>
<text x="1268.40" y="509.00" font-size="24" text-anchor="end" font-style="italic">TERT</text>
<rect x="1304.50" y="487.30" width="21.70" height="26.60" fill="#E5E6E7"/>
<rect x="1308.65" y="494.10" width="13.40" height="13.00" fill="#79B142"/>
<rect x="1331.00" y="487.30" width="21.70" height="26.60" fill="#E5E6E7"/>
<rect x="1335.15" y="494.10" width="13.40" height="13.00" fill="#79B142"/>
<rect x="1371.43" y="487.30" width="21.70" height="26.60" fill="#E5E6E7"/>
<rect x="1397.93" y="487.30" width="21.70" height="26.60" fill="#E5E6E7"/>
<rect x="1438.36" y="487.30" width="21.70" height="26.60" fill="#E5E6E7"/>
<rect x="1442.51" y="494.10" width="13.40" height="13.00" fill="#79B142"/>
<rect x="1464.86" y="487.30" width="21.70" height="26.60" fill="#E5E6E7"/>
<rect x="1505.29" y="487.30" width="21.70" height="26.60" fill="#E5E6E7"/>
<rect x="1509.44" y="494.10" width="13.40" height="13.00" fill="#79B142"/>
<rect x="1531.79" y="487.30" width="21.70" height="26.60" fill="#E5E6E7"/>
<rect x="1535.94" y="494.10" width="13.40" height="13.00" fill="#79B142"/>
<rect x="1572.22" y="487.30" width="21.70" height="26.60" fill="#E5E6E7"/>
<rect x="1576.37" y="494.10" width="13.40" height="13.00" fill="#79B142"/>
<rect x="1598.72" y="487.30" width="21.70" height="26.60" fill="#E5E6E7"/>
<rect x="1602.87" y="494.10" width="13.40" height="13.00" fill="#79B142"/>
<rect x="1639.15" y="487.30" width="21.70" height="26.60" fill="#E5E6E7"/>
<rect x="1643.30" y="494.10" width="13.40" height="13.00" fill="#79B142"/>
<rect x="1665.65" y="487.30" width="21.70" height="26.60" fill="#E5E6E7"/>
<rect x="1706.08" y="487.30" width="21.70" height="26.60" fill="#E5E6E7"/>
<rect x="1710.23" y="494.10" width="13.40" height="13.00" fill="#79B142"/>
<rect x="1732.58" y="487.30" width="21.70" height="26.60" fill="#E5E6E7"/>
<rect x="1736.73" y="494.10" width="13.40" height="13.00" fill="#79B142"/>
<rect x="1773.01" y="487.30" width="21.70" height="26.60" fill="#E5E6E7"/>
<rect x="1777.16" y="494.10" width="13.40" height="13.00" fill="#79B142"/>
<rect x="1799.51" y="487.30" width="21.70" height="26.60" fill="#E5E6E7"/>
<rect x="1803.66" y="494.10" width="13.40" height="13.00" fill="#79B142"/>
<rect x="1866.44" y="487.30" width="21.70" height="26.60" fill="#E5E6E7"/>
<rect x="1870.59" y="494.10" width="13.40" height="13.00" fill="#79B142"/>
<rect x="1933.37" y="487.30" width="21.70" height="26.60" fill="#E5E6E7"/>
<rect x="1937.52" y="494.10" width="13.40" height="13.00" fill="#79B142"/>
<rect x="2000.30" y="487.30" width="21.70" height="26.60" fill="#E5E6E7"/>
<text x="1268.40" y="542.10" font-size="24" text-anchor="end" font-style="italic">ARID1A</text>
<rect x="1304.50" y="520.40" width="21.70" height="26.60" fill="#E5E6E7"/>
<rect x="1331.00" y="520.40" width="21.70" height="26.60" fill="#E5E6E7"/>
<rect x="1371.43" y="520.40" width="21.70" height="26.60" fill="#E5E6E7"/>
<rect x="1397.93" y="520.40" width="21.70" height="26.60" fill="#E5E6E7"/>
<rect x="1402.08" y="527.20" width="13.40" height="13.00" fill="#79B142"/>
<rect x="1438.36" y="520.40" width="21.70" height="26.60" fill="#E5E6E7"/>
<rect x="1442.51" y="527.20" width="13.40" height="13.00" fill="#79B142"/>
<rect x="1464.86" y="520.40" width="21.70" height="26.60" fill="#E5E6E7"/>
<rect x="1505.29" y="520.40" width="21.70" height="26.60" fill="#E5E6E7"/>
<rect x="1531.79" y="520.40" width="21.70" height="26.60" fill="#E5E6E7"/>
<rect x="1572.22" y="520.40" width="21.70" height="26.60" fill="#E5E6E7"/>
<rect x="1598.72" y="520.40" width="21.70" height="26.60" fill="#E5E6E7"/>
<rect x="1639.15" y="520.40" width="21.70" height="26.60" fill="#E5E6E7"/>
<rect x="1643.30" y="527.20" width="13.40" height="13.00" fill="#79B142"/>
<rect x="1665.65" y="520.40" width="21.70" height="26.60" fill="#E5E6E7"/>
<rect x="1706.08" y="520.40" width="21.70" height="26.60" fill="#E5E6E7"/>
<rect x="1732.58" y="520.40" width="21.70" height="26.60" fill="#E5E6E7"/>
<rect x="1773.01" y="520.40" width="21.70" height="26.60" fill="#E5E6E7"/>
<rect x="1777.16" y="527.20" width="13.40" height="13.00" fill="#79B142"/>
<rect x="1799.51" y="520.40" width="21.70" height="26.60" fill="#E5E6E7"/>
<rect x="1803.66" y="527.20" width="13.40" height="13.00" fill="#79B142"/>
<rect x="1866.44" y="520.40" width="21.70" height="26.60" fill="#E5E6E7"/>
<rect x="1870.59" y="527.20" width="13.40" height="13.00" fill="#79B142"/>
<rect x="1933.37" y="520.40" width="21.70" height="26.60" fill="#E5E6E7"/>
<rect x="1937.52" y="527.20" width="13.40" height="13.00" fill="#79B142"/>
<rect x="2000.30" y="520.40" width="21.70" height="26.60" fill="#E5E6E7"/>
<text x="1268.40" y="575.20" font-size="24" text-anchor="end" font-style="italic">KDM6A</text>
<rect x="1304.50" y="553.50" width="21.70" height="26.60" fill="#E5E6E7"/>
<rect x="1308.65" y="560.30" width="13.40" height="13.00" fill="#79B142"/>
<rect x="1331.00" y="553.50" width="21.70" height="26.60" fill="#E5E6E7"/>
<rect x="1335.15" y="560.30" width="13.40" height="13.00" fill="#79B142"/>
<rect x="1371.43" y="553.50" width="21.70" height="26.60" fill="#E5E6E7"/>
<rect x="1397.93" y="553.50" width="21.70" height="26.60" fill="#E5E6E7"/>
<rect x="1438.36" y="553.50" width="21.70" height="26.60" fill="#E5E6E7"/>
<rect x="1442.51" y="560.30" width="13.40" height="13.00" fill="#79B142"/>
<rect x="1464.86" y="553.50" width="21.70" height="26.60" fill="#E5E6E7"/>
<rect x="1505.29" y="553.50" width="21.70" height="26.60" fill="#E5E6E7"/>
<rect x="1531.79" y="553.50" width="21.70" height="26.60" fill="#E5E6E7"/>
<rect x="1572.22" y="553.50" width="21.70" height="26.60" fill="#E5E6E7"/>
<rect x="1576.37" y="560.30" width="13.40" height="13.00" fill="#79B142"/>
<rect x="1598.72" y="553.50" width="21.70" height="26.60" fill="#E5E6E7"/>
<rect x="1602.87" y="560.30" width="13.40" height="13.00" fill="#79B142"/>
<rect x="1639.15" y="553.50" width="21.70" height="26.60" fill="#E5E6E7"/>
<rect x="1643.30" y="560.30" width="13.40" height="13.00" fill="#79B142"/>
<rect x="1665.65" y="553.50" width="21.70" height="26.60" fill="#E5E6E7"/>
<rect x="1706.08" y="553.50" width="21.70" height="26.60" fill="#E5E6E7"/>
<rect x="1732.58" y="553.50" width="21.70" height="26.60" fill="#E5E6E7"/>
<rect x="1773.01" y="553.50" width="21.70" height="26.60" fill="#E5E6E7"/>
<rect x="1799.51" y="553.50" width="21.70" height="26.60" fill="#E5E6E7"/>
<rect x="1866.44" y="553.50" width="21.70" height="26.60" fill="#E5E6E7"/>
<rect x="1933.37" y="553.50" width="21.70" height="26.60" fill="#E5E6E7"/>
<rect x="2000.30" y="553.50" width="21.70" height="26.60" fill="#E5E6E7"/>
<text x="1268.40" y="608.30" font-size="24" text-anchor="end" font-style="italic">TSC1</text>
<rect x="1304.50" y="586.60" width="21.70" height="26.60" fill="#E5E6E7"/>
<rect x="1331.00" y="586.60" width="21.70" height="26.60" fill="#E5E6E7"/>
<rect x="1371.43" y="586.60" width="21.70" height="26.60" fill="#E5E6E7"/>
<rect x="1375.58" y="593.40" width="13.40" height="13.00" fill="#79B142"/>
<rect x="1397.93" y="586.60" width="21.70" height="26.60" fill="#E5E6E7"/>
<rect x="1402.08" y="593.40" width="13.40" height="13.00" fill="#79B142"/>
<rect x="1438.36" y="586.60" width="21.70" height="26.60" fill="#E5E6E7"/>
<rect x="1442.51" y="593.40" width="13.40" height="13.00" fill="#79B142"/>
<rect x="1464.86" y="586.60" width="21.70" height="26.60" fill="#E5E6E7"/>
<rect x="1469.01" y="593.40" width="13.40" height="13.00" fill="#79B142"/>
<rect x="1505.29" y="586.60" width="21.70" height="26.60" fill="#E5E6E7"/>
<rect x="1531.79" y="586.60" width="21.70" height="26.60" fill="#E5E6E7"/>
<rect x="1572.22" y="586.60" width="21.70" height="26.60" fill="#E5E6E7"/>
<rect x="1598.72" y="586.60" width="21.70" height="26.60" fill="#E5E6E7"/>
<rect x="1639.15" y="586.60" width="21.70" height="26.60" fill="#E5E6E7"/>
<rect x="1665.65" y="586.60" width="21.70" height="26.60" fill="#E5E6E7"/>
<rect x="1706.08" y="586.60" width="21.70" height="26.60" fill="#E5E6E7"/>
<rect x="1732.58" y="586.60" width="21.70" height="26.60" fill="#E5E6E7"/>
<rect x="1773.01" y="586.60" width="21.70" height="26.60" fill="#E5E6E7"/>
<rect x="1799.51" y="586.60" width="21.70" height="26.60" fill="#E5E6E7"/>
<rect x="1866.44" y="586.60" width="21.70" height="26.60" fill="#E5E6E7"/>
<rect x="1870.59" y="593.40" width="13.40" height="13.00" fill="#79B142"/>
<rect x="1933.37" y="586.60" width="21.70" height="26.60" fill="#E5E6E7"/>
<rect x="2000.30" y="586.60" width="21.70" height="26.60" fill="#E5E6E7"/>
<text x="1268.40" y="641.40" font-size="24" text-anchor="end" font-style="italic">TP53</text>
<rect x="1304.50" y="619.70" width="21.70" height="26.60" fill="#E5E6E7"/>
<rect x="1331.00" y="619.70" width="21.70" height="26.60" fill="#E5E6E7"/>
<rect x="1371.43" y="619.70" width="21.70" height="26.60" fill="#E5E6E7"/>
<rect x="1375.58" y="626.50" width="13.40" height="13.00" fill="#79B142"/>
<rect x="1397.93" y="619.70" width="21.70" height="26.60" fill="#E5E6E7"/>
<rect x="1402.08" y="626.50" width="13.40" height="13.00" fill="#79B142"/>
<rect x="1438.36" y="619.70" width="21.70" height="26.60" fill="#E5E6E7"/>
<rect x="1464.86" y="619.70" width="21.70" height="26.60" fill="#E5E6E7"/>
<rect x="1505.29" y="619.70" width="21.70" height="26.60" fill="#E5E6E7"/>
<rect x="1531.79" y="619.70" width="21.70" height="26.60" fill="#E5E6E7"/>
<rect x="1572.22" y="619.70" width="21.70" height="26.60" fill="#E5E6E7"/>
<rect x="1576.37" y="626.50" width="13.40" height="13.00" fill="#79B142"/>
<rect x="1598.72" y="619.70" width="21.70" height="26.60" fill="#E5E6E7"/>
<rect x="1602.87" y="626.50" width="13.40" height="13.00" fill="#79B142"/>
<rect x="1639.15" y="619.70" width="21.70" height="26.60" fill="#E5E6E7"/>
<rect x="1665.65" y="619.70" width="21.70" height="26.60" fill="#E5E6E7"/>
<rect x="1706.08" y="619.70" width="21.70" height="26.60" fill="#E5E6E7"/>
<rect x="1732.58" y="619.70" width="21.70" height="26.60" fill="#E5E6E7"/>
<rect x="1773.01" y="619.70" width="21.70" height="26.60" fill="#E5E6E7"/>
<rect x="1799.51" y="619.70" width="21.70" height="26.60" fill="#E5E6E7"/>
<rect x="1866.44" y="619.70" width="21.70" height="26.60" fill="#E5E6E7"/>
<rect x="1933.37" y="619.70" width="21.70" height="26.60" fill="#E5E6E7"/>
<rect x="2000.30" y="619.70" width="21.70" height="26.60" fill="#E5E6E7"/>
<rect x="2004.45" y="626.50" width="13.40" height="13.00" fill="#79B142"/>
<text x="1268.40" y="674.50" font-size="24" text-anchor="end" font-style="italic">KMT2D</text>
<rect x="1304.50" y="652.80" width="21.70" height="26.60" fill="#E5E6E7"/>
<rect x="1331.00" y="652.80" width="21.70" height="26.60" fill="#E5E6E7"/>
<rect x="1371.43" y="652.80" width="21.70" height="26.60" fill="#E5E6E7"/>
<rect x="1397.93" y="652.80" width="21.70" height="26.60" fill="#E5E6E7"/>
<rect x="1402.08" y="659.60" width="13.40" height="13.00" fill="#79B142"/>
<rect x="1438.36" y="652.80" width="21.70" height="26.60" fill="#E5E6E7"/>
<rect x="1464.86" y="652.80" width="21.70" height="26.60" fill="#E5E6E7"/>
<rect x="1505.29" y="652.80" width="21.70" height="26.60" fill="#E5E6E7"/>
<rect x="1531.79" y="652.80" width="21.70" height="26.60" fill="#E5E6E7"/>
<rect x="1572.22" y="652.80" width="21.70" height="26.60" fill="#E5E6E7"/>
<rect x="1576.37" y="659.60" width="13.40" height="13.00" fill="#79B142"/>
<rect x="1598.72" y="652.80" width="21.70" height="26.60" fill="#E5E6E7"/>
<rect x="1602.87" y="659.60" width="13.40" height="13.00" fill="#79B142"/>
<rect x="1639.15" y="652.80" width="21.70" height="26.60" fill="#E5E6E7"/>
<rect x="1665.65" y="652.80" width="21.70" height="26.60" fill="#E5E6E7"/>
<rect x="1706.08" y="652.80" width="21.70" height="26.60" fill="#E5E6E7"/>
<rect x="1732.58" y="652.80" width="21.70" height="26.60" fill="#E5E6E7"/>
<rect x="1773.01" y="652.80" width="21.70" height="26.60" fill="#E5E6E7"/>
<rect x="1799.51" y="652.80" width="21.70" height="26.60" fill="#E5E6E7"/>
<rect x="1866.44" y="652.80" width="21.70" height="26.60" fill="#E5E6E7"/>
<rect x="1933.37" y="652.80" width="21.70" height="26.60" fill="#E5E6E7"/>
<rect x="2000.30" y="652.80" width="21.70" height="26.60" fill="#E5E6E7"/>
<text x="1268.40" y="707.60" font-size="24" text-anchor="end" font-style="italic">PIK3CA</text>
<rect x="1304.50" y="685.90" width="21.70" height="26.60" fill="#E5E6E7"/>
<rect x="1331.00" y="685.90" width="21.70" height="26.60" fill="#E5E6E7"/>
<rect x="1371.43" y="685.90" width="21.70" height="26.60" fill="#E5E6E7"/>
<rect x="1397.93" y="685.90" width="21.70" height="26.60" fill="#E5E6E7"/>
<rect x="1438.36" y="685.90" width="21.70" height="26.60" fill="#E5E6E7"/>
<rect x="1464.86" y="685.90" width="21.70" height="26.60" fill="#E5E6E7"/>
<rect x="1505.29" y="685.90" width="21.70" height="26.60" fill="#E5E6E7"/>
<rect x="1531.79" y="685.90" width="21.70" height="26.60" fill="#E5E6E7"/>
<rect x="1572.22" y="685.90" width="21.70" height="26.60" fill="#E5E6E7"/>
<rect x="1576.37" y="692.70" width="13.40" height="13.00" fill="#79B142"/>
<rect x="1598.72" y="685.90" width="21.70" height="26.60" fill="#E5E6E7"/>
<rect x="1602.87" y="692.70" width="13.40" height="13.00" fill="#79B142"/>
<rect x="1639.15" y="685.90" width="21.70" height="26.60" fill="#E5E6E7"/>
<rect x="1665.65" y="685.90" width="21.70" height="26.60" fill="#E5E6E7"/>
<rect x="1706.08" y="685.90" width="21.70" height="26.60" fill="#E5E6E7"/>
<rect x="1732.58" y="685.90" width="21.70" height="26.60" fill="#E5E6E7"/>
<rect x="1773.01" y="685.90" width="21.70" height="26.60" fill="#E5E6E7"/>
<rect x="1777.16" y="692.70" width="13.40" height="13.00" fill="#79B142"/>
<rect x="1799.51" y="685.90" width="21.70" height="26.60" fill="#E5E6E7"/>
<rect x="1803.66" y="692.70" width="13.40" height="13.00" fill="#79B142"/>
<rect x="1866.44" y="685.90" width="21.70" height="26.60" fill="#E5E6E7"/>
<rect x="1933.37" y="685.90" width="21.70" height="26.60" fill="#E5E6E7"/>
<rect x="2000.30" y="685.90" width="21.70" height="26.60" fill="#E5E6E7"/>
<text x="1268.40" y="740.70" font-size="24" text-anchor="end" font-style="italic">ERCC2</text>
<rect x="1304.50" y="719.00" width="21.70" height="26.00" fill="#E5E6E7"/>
<rect x="1331.00" y="719.00" width="21.70" height="26.00" fill="#E5E6E7"/>
<rect x="1371.43" y="719.00" width="21.70" height="26.00" fill="#E5E6E7"/>
<rect x="1397.93" y="719.00" width="21.70" height="26.00" fill="#E5E6E7"/>
<rect x="1438.36" y="719.00" width="21.70" height="26.00" fill="#E5E6E7"/>
<rect x="1464.86" y="719.00" width="21.70" height="26.00" fill="#E5E6E7"/>
<rect x="1505.29" y="719.00" width="21.70" height="26.00" fill="#E5E6E7"/>
<rect x="1531.79" y="719.00" width="21.70" height="26.00" fill="#E5E6E7"/>
<rect x="1572.22" y="719.00" width="21.70" height="26.00" fill="#E5E6E7"/>
<rect x="1598.72" y="719.00" width="21.70" height="26.00" fill="#E5E6E7"/>
<rect x="1639.15" y="719.00" width="21.70" height="26.00" fill="#E5E6E7"/>
<rect x="1643.30" y="725.80" width="13.40" height="13.00" fill="#79B142"/>
<rect x="1665.65" y="719.00" width="21.70" height="26.00" fill="#E5E6E7"/>
<rect x="1706.08" y="719.00" width="21.70" height="26.00" fill="#E5E6E7"/>
<rect x="1732.58" y="719.00" width="21.70" height="26.00" fill="#E5E6E7"/>
<rect x="1773.01" y="719.00" width="21.70" height="26.00" fill="#E5E6E7"/>
<rect x="1777.16" y="725.80" width="13.40" height="13.00" fill="#79B142"/>
<rect x="1799.51" y="719.00" width="21.70" height="26.00" fill="#E5E6E7"/>
<rect x="1803.66" y="725.80" width="13.40" height="13.00" fill="#79B142"/>
<rect x="1866.44" y="719.00" width="21.70" height="26.00" fill="#E5E6E7"/>
<rect x="1933.37" y="719.00" width="21.70" height="26.00" fill="#E5E6E7"/>
<rect x="2000.30" y="719.00" width="21.70" height="26.00" fill="#E5E6E7"/>
<line x1="1302.20" y1="745.60" x2="1355.20" y2="745.60" stroke="#000" stroke-width="2.4"/>
<text x="1336.20" y="753.00" font-size="24" text-anchor="end" transform="rotate(-90 1336.20 753.00)">20-383</text>
<line x1="1369.13" y1="745.60" x2="1422.13" y2="745.60" stroke="#000" stroke-width="2.4"/>
<text x="1403.13" y="753.00" font-size="24" text-anchor="end" transform="rotate(-90 1403.13 753.00)">19-057</text>
<line x1="1436.06" y1="745.60" x2="1489.06" y2="745.60" stroke="#000" stroke-width="2.4"/>
<text x="1470.06" y="753.00" font-size="24" text-anchor="end" transform="rotate(-90 1470.06 753.00)">20-227</text>
<line x1="1502.99" y1="745.60" x2="1555.99" y2="745.60" stroke="#000" stroke-width="2.4"/>
<text x="1536.99" y="753.00" font-size="24" text-anchor="end" transform="rotate(-90 1536.99 753.00)">21-352</text>
<line x1="1569.92" y1="745.60" x2="1622.92" y2="745.60" stroke="#000" stroke-width="2.4"/>
<text x="1603.92" y="753.00" font-size="24" text-anchor="end" transform="rotate(-90 1603.92 753.00)">21-430</text>
<line x1="1636.85" y1="745.60" x2="1689.85" y2="745.60" stroke="#000" stroke-width="2.4"/>
<text x="1670.85" y="753.00" font-size="24" text-anchor="end" transform="rotate(-90 1670.85 753.00)">06-006</text>
<line x1="1703.78" y1="745.60" x2="1756.78" y2="745.60" stroke="#000" stroke-width="2.4"/>
<text x="1737.78" y="753.00" font-size="24" text-anchor="end" transform="rotate(-90 1737.78 753.00)">19-345</text>
<line x1="1770.71" y1="745.60" x2="1823.71" y2="745.60" stroke="#000" stroke-width="2.4"/>
<text x="1804.71" y="753.00" font-size="24" text-anchor="end" transform="rotate(-90 1804.71 753.00)">18-442</text>
<line x1="1837.64" y1="745.60" x2="1890.64" y2="745.60" stroke="#000" stroke-width="2.4"/>
<text x="1871.64" y="753.00" font-size="24" text-anchor="end" transform="rotate(-90 1871.64 753.00)">18-254</text>
<line x1="1904.57" y1="745.60" x2="1957.57" y2="745.60" stroke="#000" stroke-width="2.4"/>
<text x="1938.57" y="753.00" font-size="24" text-anchor="end" transform="rotate(-90 1938.57 753.00)">18-470</text>
<line x1="1971.50" y1="745.60" x2="2024.50" y2="745.60" stroke="#000" stroke-width="2.4"/>
<text x="2005.50" y="753.00" font-size="24" text-anchor="end" transform="rotate(-90 2005.50 753.00)">20-034</text>
<text x="1231.40" y="879.00" font-size="24" text-anchor="start" font-weight="bold">Timepoint</text>
<text x="1450.60" y="879.00" font-size="24" text-anchor="start" font-weight="bold">Alteration</text>
<rect x="1188.30" y="896.60" width="23.70" height="16.40" fill="#E5E6E7"/>
<text x="1231.40" y="912.90" font-size="24" text-anchor="start">Baseline</text>
<rect x="1188.30" y="930.70" width="23.70" height="16.40" fill="#00FFFF"/>
<text x="1231.40" y="947.00" font-size="24" text-anchor="start">Serial</text>
<rect x="1188.30" y="964.70" width="23.70" height="16.40" fill="#808080"/>
<text x="1231.40" y="981.00" font-size="24" text-anchor="start">Progression</text>
<rect x="1407.00" y="896.60" width="24.60" height="16.40" fill="#FDC704"/>
<text x="1450.60" y="912.90" font-size="24" text-anchor="start">Hotspot mutation</text>
<rect x="1407.00" y="930.70" width="24.60" height="16.40" fill="#000"/>
<text x="1450.60" y="947.00" font-size="24" text-anchor="start">Fusion</text>
<rect x="1407.00" y="964.70" width="24.60" height="16.40" fill="#D3D3D3"/>
<text x="1450.60" y="981.00" font-size="24" text-anchor="start">Wild-type</text>
<rect x="1679.90" y="896.60" width="23.70" height="16.40" fill="#9A59B5"/>
<text x="1723.80" y="912.90" font-size="24" text-anchor="start">Resistance mutation</text>
<rect x="1679.90" y="930.70" width="23.70" height="16.40" fill="#79B142"/>
<text x="1723.80" y="947.00" font-size="24" text-anchor="start">Other mutation</text>
<text x="0.00" y="1054.50" font-size="64" text-anchor="start" font-weight="bold" fill="#231F20">c</text>
<text x="43.30" y="1047.40" font-size="31.6" text-anchor="start">Reflex testing</text>
<rect x="2.6" y="1077.5" width="282.3" height="103.5" fill="none" stroke="#231F20" stroke-width="3.3"/>
<text x="143.50" y="1137.60" font-size="24" text-anchor="middle" fill="#231F20">mUC diagnosis</text>
<line x1="285.00" y1="1128.40" x2="387.80" y2="1128.40" stroke="#231F20" stroke-width="3.3"/>
<rect x="388.0" y="1101.7" width="406.6" height="54.4" fill="none" stroke="#231F20" stroke-width="3.3"/>
<text x="591.50" y="1138.20" font-size="24" text-anchor="middle" fill="#231F20">1L systemic therapy</text>
<line x1="794.50" y1="1128.80" x2="897.80" y2="1128.80" stroke="#231F20" stroke-width="3.3"/>
<rect x="897.9" y="1101.7" width="322.2" height="54.4" fill="none" stroke="#231F20" stroke-width="3.3"/>
<text x="1058.70" y="1138.20" font-size="24" text-anchor="middle" fill="#231F20">2L systemic therapy</text>
<rect x="269.0" y="1208.6" width="131.6" height="95.4" rx="25" ry="25" fill="none" stroke="#231F20" stroke-width="3.3"/>
<text x="335.00" y="1252.80" font-size="24" text-anchor="middle" fill="#231F20">ctDNA</text>
<text x="335.00" y="1277.30" font-size="24" text-anchor="middle" fill="#231F20">sample</text>
<line x1="400.80" y1="1255.60" x2="502.00" y2="1226.00" stroke="#231F20" stroke-width="3.3"/>
<line x1="400.80" y1="1256.60" x2="502.00" y2="1286.40" stroke="#231F20" stroke-width="3.3"/>
<rect x="501.9" y="1208.7" width="283.8" height="35.2" rx="10" ry="10" fill="none" stroke="#231F20" stroke-width="3.3"/>
<text x="644.00" y="1234.70" font-size="24" text-anchor="middle" fill="#231F20">Archival tissue retrieval</text>
<rect x="501.9" y="1269.0" width="173.1" height="34.8" rx="10" ry="10" fill="none" stroke="#FDC704" stroke-width="3.3"/>
<text x="588.20" y="1295.00" font-size="24" text-anchor="middle" fill="#FDC704">FGFR status</text>
<line x1="785.30" y1="1226.00" x2="897.80" y2="1226.00" stroke="#231F20" stroke-width="3.3"/>
<line x1="785.30" y1="1227.00" x2="897.80" y2="1287.00" stroke="#231F20" stroke-width="3.3"/>
<rect x="897.5" y="1208.9" width="172.8" height="35.2" rx="10" ry="10" fill="none" stroke="#FDC704" stroke-width="3.3"/>
<text x="983.70" y="1234.70" font-size="24" text-anchor="middle" fill="#FDC704">FGFR status</text>
<rect x="897.5" y="1269.5" width="247.0" height="35.6" rx="10" ry="10" fill="none" stroke="#231F20" stroke-width="3.3"/>
<text x="1020.70" y="1296.00" font-size="24" text-anchor="middle" fill="#231F20">ctDNA resample</text>
<path d="M332.20,1137.00 C339.79,1155.76 353.90,1170.37 353.90,1182.30 A21.70,21.70 0 0 1 310.50,1182.30 C310.50,1170.37 324.61,1155.76 332.20,1137.00Z" fill="url(#dropg)"/>
<path d="M314.84,1184.30 A18.45,18.45 0 0 0 334.37,1201.80" stroke="#E5333B" stroke-width="1.1" fill="none" opacity="0.9"/>
<path d="M838.20,1137.30 C845.87,1155.81 860.10,1169.45 860.10,1181.50 A21.90,21.90 0 0 1 816.30,1181.50 C816.30,1169.45 830.54,1155.81 838.20,1137.30Z" fill="url(#dropg)"/>
<path d="M820.68,1183.50 A18.61,18.61 0 0 0 840.39,1201.20" stroke="#E5333B" stroke-width="1.1" fill="none" opacity="0.9"/>
<text x="1233.00" y="1053.80" font-size="64" text-anchor="start" font-weight="bold" fill="#231F20">d</text>
<line x1="1356.40" y1="1249.60" x2="1356.40" y2="1018.00" stroke="#000" stroke-width="2"/>
<line x1="1342.50" y1="1248.60" x2="1565.10" y2="1248.60" stroke="#000" stroke-width="2"/>
<line x1="1342.50" y1="1248.60" x2="1356.40" y2="1248.60" stroke="#000" stroke-width="2"/>
<text x="1328.50" y="1257.40" font-size="24" text-anchor="end">0.00</text>
<line x1="1342.50" y1="1191.17" x2="1356.40" y2="1191.17" stroke="#000" stroke-width="2"/>
<text x="1328.50" y="1199.97" font-size="24" text-anchor="end">0.25</text>
<line x1="1342.50" y1="1133.75" x2="1356.40" y2="1133.75" stroke="#000" stroke-width="2"/>
<text x="1328.50" y="1142.55" font-size="24" text-anchor="end">0.50</text>
<line x1="1342.50" y1="1076.32" x2="1356.40" y2="1076.32" stroke="#000" stroke-width="2"/>
<text x="1328.50" y="1085.12" font-size="24" text-anchor="end">0.75</text>
<line x1="1342.50" y1="1018.90" x2="1356.40" y2="1018.90" stroke="#000" stroke-width="2"/>
<text x="1328.50" y="1027.70" font-size="24" text-anchor="end">1.00</text>
<rect x="1365.80" y="1046.46" width="84.50" height="201.14" fill="#B0D89D"/>
<rect x="1471.00" y="1038.30" width="84.20" height="209.30" fill="#B0D89D"/>
<text x="1408.00" y="1041.40" font-size="24" text-anchor="middle">0.88</text>
<text x="1513.10" y="1033.60" font-size="24" text-anchor="middle">0.92</text>
<line x1="1407.80" y1="1248.60" x2="1407.80" y2="1262.80" stroke="#000" stroke-width="2"/>
<line x1="1513.00" y1="1248.60" x2="1513.00" y2="1262.80" stroke="#000" stroke-width="2"/>
<text x="1261.20" y="1133.30" font-size="24" text-anchor="middle" transform="rotate(-90 1261.20 1133.30)">Sensitivity</text>
<text x="1413.50" y="1346.70" font-size="24" text-anchor="start" transform="rotate(-90 1413.50 1346.70)">Tissue</text>
<text x="1519.10" y="1343.60" font-size="24" text-anchor="start" transform="rotate(-90 1519.10 1343.60)">Reflex</text>
</svg>
</body></html>
